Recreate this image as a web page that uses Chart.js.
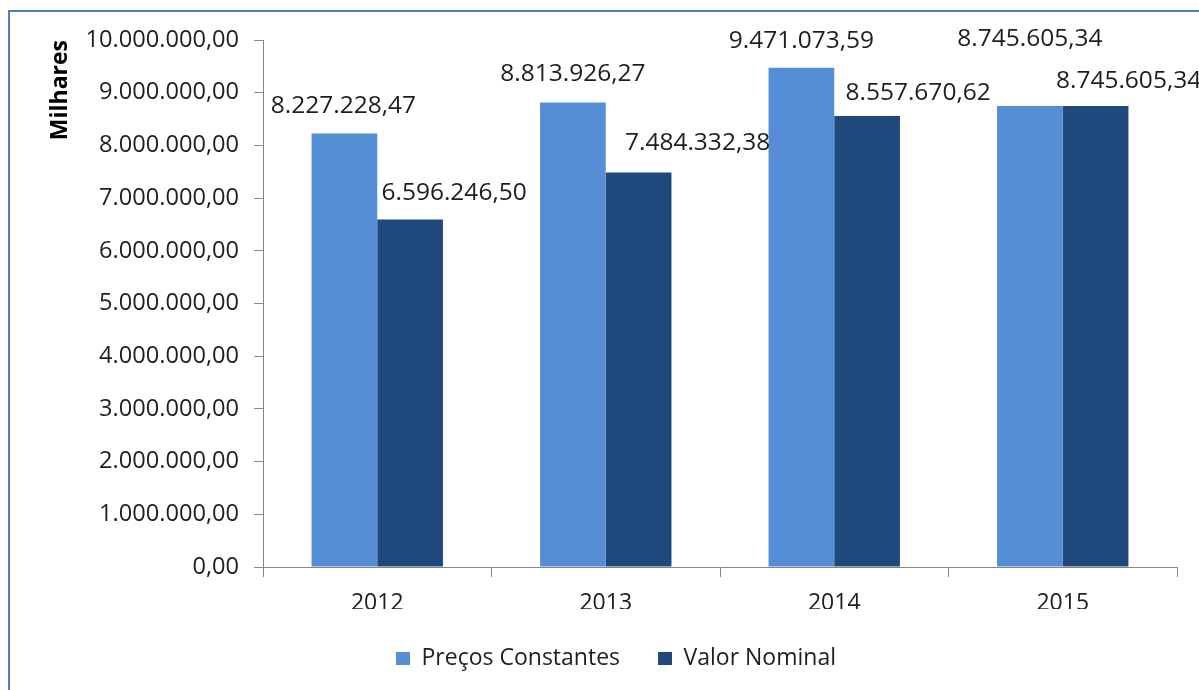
<!DOCTYPE html>
<html>
<head>
<meta charset="utf-8">
<script src="https://cdn.jsdelivr.net/npm/chart.js@4.4.1/dist/chart.umd.min.js"></script>
<style>
  html, body { margin: 0; padding: 0; background: #fff; overflow: hidden; width: 1199px; height: 690px; }
  #frame { position: absolute; left: 8px; top: 10px; width: 1400px; height: 900px; border: 2px solid #4f81bd; box-sizing: border-box; }
  #wrap { position: absolute; left: 0; top: 0; width: 1199px; height: 690px; }
</style>
</head>
<body>
<div id="frame"></div>
<div id="wrap"><canvas id="c" width="1199" height="690"></canvas></div>
<script>
// ---- data ----
const categories = ['2012', '2013', '2014', '2015'];
const seriesNames = ['Preços Constantes', 'Valor Nominal'];
const precosConstantes = [8227228.47, 8813926.27, 9471073.59, 8745605.34];
const valorNominal = [6596246.50, 7484332.38, 8557670.62, 8745605.34];
const yMin = 0, yMax = 10000000, yStep = 1000000;
const axisTitle = 'Milhares';

// ---- label placement (style, not data) ----
const labelOffsetsPrecos = [[-1, -27], [0, -28], [0, -27], [0, -67]];
const labelOffsetsNominal = [[44, -26], [59, -30], [51, -23], [33, -25]];

const FONT = "'Open Sans', 'DejaVu Sans', sans-serif";
const TEXT = '#1e1e1e';
const AXIS = '#868686';

function fmt(v) {
  const neg = v < 0;
  v = Math.abs(v);
  const cents = Math.round(v * 100);
  const intPart = Math.floor(cents / 100).toString();
  const dec = (cents % 100).toString().padStart(2, '0');
  const grouped = intPart.replace(/\B(?=(\d{3})+(?!\d))/g, '.');
  return (neg ? '-' : '') + grouped + ',' + dec;
}

const barLabels = {
  id: 'barLabels',
  afterDatasetsDraw(chart) {
    const ctx = chart.ctx;
    ctx.save();
    ctx.font = '24.5px ' + FONT;
    ctx.fillStyle = TEXT;
    ctx.textAlign = 'center';
    ctx.textBaseline = 'middle';
    const offs = [labelOffsetsPrecos, labelOffsetsNominal];
    chart.data.datasets.forEach((ds, di) => {
      const meta = chart.getDatasetMeta(di);
      meta.data.forEach((bar, i) => {
        const o = offs[di][i];
        ctx.fillText(fmt(ds.data[i]), bar.x + o[0], bar.y + o[1]);
      });
    });
    ctx.restore();
  }
};

new Chart(document.getElementById('c'), {
  type: 'bar',
  data: {
    labels: categories,
    datasets: [
      { label: seriesNames[0], data: precosConstantes, backgroundColor: '#558ed5', borderWidth: 0 },
      { label: seriesNames[1], data: valorNominal, backgroundColor: '#1f497d', borderWidth: 0 }
    ]
  },
  options: {
    responsive: false,
    devicePixelRatio: 1,
    animation: false,
    layout: { padding: { left: 55, right: 22, top: 40, bottom: 10 } },
    datasets: { bar: { categoryPercentage: 0.575, barPercentage: 1.0 } },
    plugins: {
      tooltip: { enabled: false },
      legend: {
        position: 'bottom',
        align: 'center',
        labels: {
          font: { family: FONT, size: 23 },
          color: TEXT,
          boxWidth: 14,
          boxHeight: 13,
          padding: 38
        }
      }
    },
    scales: {
      x: {
        offset: true,
        grid: { offset: true, drawOnChartArea: false, drawTicks: true, tickLength: 10, color: AXIS, lineWidth: 1 },
        border: { display: true, color: AXIS, width: 1 },
        ticks: { font: { family: FONT, size: 23 }, color: TEXT, padding: 13 },
        afterFit(scale) { scale.height = 42; }
      },
      y: {
        min: yMin, max: yMax,
        grid: { drawOnChartArea: false, drawTicks: true, tickLength: 9, color: AXIS, lineWidth: 1 },
        border: { display: true, color: AXIS, width: 1 },
        ticks: { stepSize: yStep, font: { family: FONT, size: 23.6 }, color: TEXT, padding: 15, callback: (v) => fmt(v) },
        title: { display: true, text: axisTitle, align: 'end', color: '#000', font: { family: FONT, size: 23, weight: 'bold' }, padding: { top: -8, bottom: 0 } },
        afterFit(scale) { scale.width = 208; }
      }
    }
  },
  plugins: [barLabels]
});
</script>
</body>
</html>
